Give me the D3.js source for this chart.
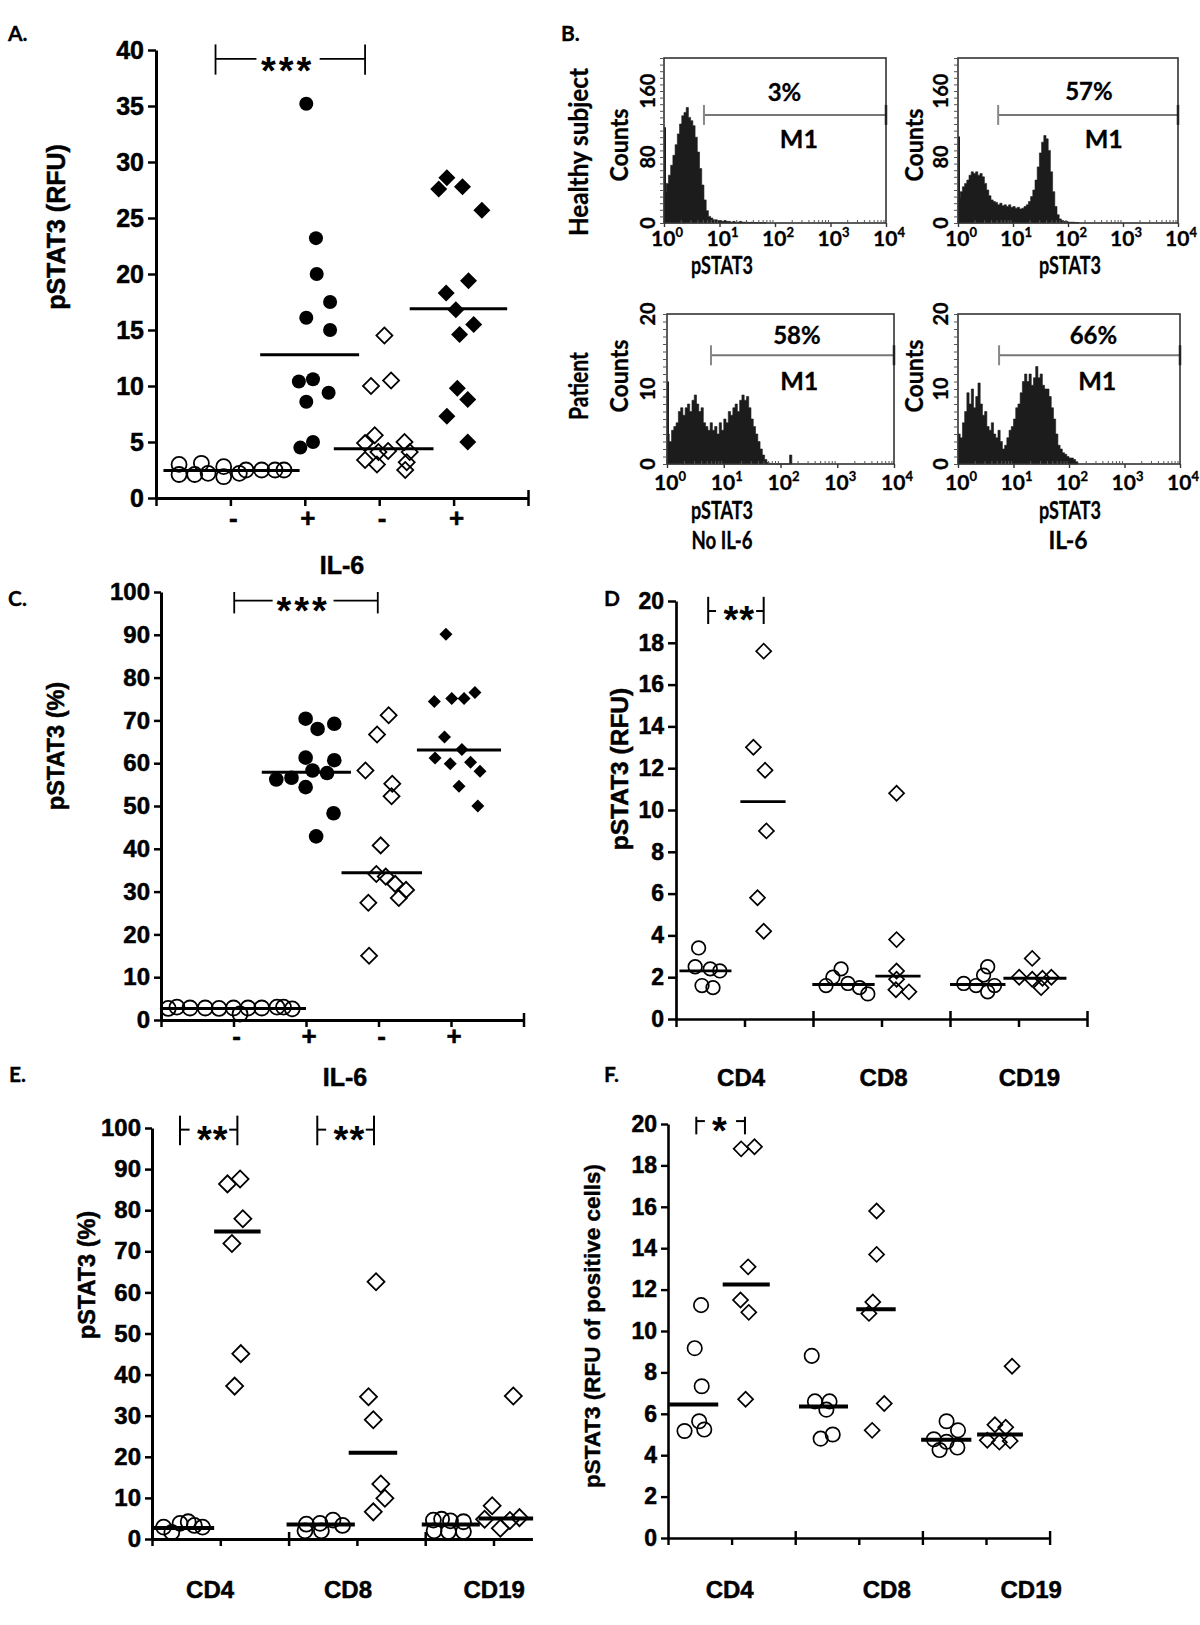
<!DOCTYPE html>
<html><head><meta charset="utf-8">
<script src="https://cdn.jsdelivr.net/npm/d3@7"></script>
<style>body{margin:0;background:#fff}svg{display:block}</style>
</head><body>
<svg id="fig" width="1200" height="1625"></svg>
<script>
// ---------------- DATA ----------------
// Panel A : pSTAT3 (RFU) ; points are [x position in category units, value]
const A_xLabels = ["-", "+", "-", "+"];
const A_yTicks = [0,5,10,15,20,25,30,35,40];
const A_healthyNoIL6 = [[0.31,3.0],[0.31,2.1],[0.52,2.1],[0.61,3.1],[0.70,2.2],[0.91,2.8],[0.91,1.9],[1.12,2.2],[1.21,2.5],[1.42,2.5],[1.60,2.5],[1.72,2.5]];
const A_healthyIL6 = [[2.02,35.2],[2.15,23.2],[2.16,20.0],[2.34,17.5],[2.02,16.1],[2.34,15.0],[1.92,10.4],[2.11,10.6],[2.32,9.4],[2.02,8.6],[2.11,5.0],[1.94,4.5]];
const A_patientNoIL6 = [[3.07,14.5],[2.89,10.0],[3.16,10.5],[2.94,5.6],[2.81,4.9],[3.34,5.0],[2.99,4.1],[3.12,4.2],[3.41,4.1],[2.81,3.4],[2.97,3.0],[3.37,3.2],[3.35,2.5]];
const A_patientIL6 = [[3.91,28.6],[3.80,27.6],[4.12,27.8],[4.38,25.7],[4.20,19.4],[3.90,18.3],[4.03,16.8],[4.27,15.5],[4.08,14.6],[4.05,9.8],[4.19,8.8],[3.91,7.3],[4.19,5.0]];
const A_medians = [2.45, 12.8, 4.4, 16.9];
const A_medianSpans = [[0.10,1.93],[1.40,2.73],[2.39,3.73],[3.41,4.72]];

// Panel C : pSTAT3 (%)
const C_xLabels = ["-", "+", "-", "+"];
const C_yTicks = [0,10,20,30,40,50,60,70,80,90,100];
const C_healthyNoIL6 = [[0.10,2.7],[0.22,3.0],[0.40,2.8],[0.61,2.8],[0.80,2.7],[1.00,2.8],[1.09,1.4],[1.20,2.8],[1.39,2.8],[1.60,3.0],[1.69,3.0],[1.81,2.6]];
const C_healthyIL6 = [[1.995,70.4],[2.16,68.0],[2.39,69.2],[1.995,61.3],[2.39,60.7],[2.09,58.3],[2.29,57.7],[1.59,56.2],[1.80,56.6],[1.995,54.4],[2.38,48.3],[2.14,42.9]];
const C_patientNoIL6 = [[3.14,71.2],[2.98,66.7],[2.82,58.3],[3.19,55.2],[3.18,52.3],[3.03,40.8],[2.97,34.1],[3.10,33.5],[3.23,31.8],[3.38,30.4],[3.28,28.5],[2.86,27.4],[2.87,15.0]];
const C_patientIL6 = [[3.93,90.1],[3.77,74.4],[4.01,75.1],[4.18,75.1],[4.33,76.5],[3.91,66.1],[4.15,63.2],[3.78,61.2],[3.99,59.9],[4.27,60.2],[4.40,58.1],[4.11,54.6],[4.37,50.0]];
const C_medians = [2.7, 57.9, 34.4, 63.1];
const C_medianSpans = [[0.01,2.0],[1.39,2.62],[2.49,3.60],[3.53,4.69]];

// Panel D : pSTAT3 (RFU) by cell type
const cellTypes = ["CD4", "CD8", "CD19"];
const D_yTicks = [0,2,4,6,8,10,12,14,16,18,20];
const D_CD4_healthy = [[0.33,3.4],[0.28,2.5],[0.50,2.4],[0.64,2.3],[0.38,1.6],[0.54,1.5]];
const D_CD4_patient = [[1.28,17.6],[1.13,13.0],[1.30,11.9],[1.32,9.0],[1.19,5.8],[1.28,4.2]];
const D_CD8_healthy = [[2.19,1.6],[2.29,2.0],[2.41,2.4],[2.51,1.7],[2.68,1.5],[2.80,1.2]];
const D_CD8_patient = [[3.22,10.8],[3.22,3.8],[3.22,2.3],[3.22,1.9],[3.21,1.4],[3.40,1.3]];
const D_CD19_healthy = [[4.20,1.7],[4.38,1.6],[4.49,2.1],[4.55,2.5],[4.65,1.6],[4.55,1.3]];
const D_CD19_patient = [[5.20,2.9],[5.01,2.0],[5.20,1.9],[5.35,1.95],[5.48,2.0],[5.33,1.5]];
const D_medians = [2.3, 10.4, 1.65, 2.05, 1.65, 1.95];
const D_medianSpans = [[0.05,0.81],[0.94,1.60],[1.99,2.90],[2.91,3.57],[4.0,4.81],[4.78,5.70]];

// Panel E : pSTAT3 (%) by cell type
const E_yTicks = [0,10,20,30,40,50,60,70,80,90,100];
const E_CD4_healthy = [[0.17,2.9],[0.29,1.6],[0.41,3.8],[0.53,4.2],[0.62,3.3],[0.74,2.9]];
const E_CD4_patient = [[1.105,86.4],[1.29,87.6],[1.33,77.9],[1.17,71.9],[1.30,45.1],[1.21,37.2]];
const E_CD8_healthy = [[2.24,2.0],[2.26,3.6],[2.46,3.8],[2.48,2.0],[2.65,4.6],[2.79,3.3]];
const E_CD8_patient = [[3.28,62.6],[3.17,34.6],[3.24,29.0],[3.35,13.4],[3.41,9.9],[3.24,6.6]];
const E_CD19_healthy = [[4.12,4.6],[4.24,4.8],[4.37,4.4],[4.56,4.2],[4.13,2.0],[4.34,1.8],[4.56,1.8]];
const E_CD19_patient = [[5.29,34.8],[4.98,8.1],[4.87,4.8],[5.24,4.5],[5.38,5.2],[5.10,2.6]];
const E_medians = [2.7, 74.8, 3.5, 21.0, 3.5, 5.0];
const E_medianSpans = [[0.02,0.91],[0.91,1.59],[1.97,2.97],[2.88,3.59],[3.95,4.80],[4.78,5.58]];

// Panel F : pSTAT3 (RFU of positive cells)
const F_yTicks = [0,2,4,6,8,10,12,14,16,18,20];
const F_CD4_healthy = [[0.52,11.25],[0.42,9.17],[0.53,7.33],[0.49,5.64],[0.26,5.17],[0.57,5.24]];
const F_CD4_patient = [[1.15,18.8],[1.36,18.9],[1.26,13.1],[1.14,11.5],[1.27,10.9],[1.22,6.7]];
const F_CD8_healthy = [[2.26,8.8],[2.31,6.6],[2.54,6.6],[2.49,6.2],[2.59,5.0],[2.40,4.8]];
const F_CD8_patient = [[3.28,15.8],[3.28,13.7],[3.22,11.4],[3.16,10.85],[3.40,6.5],[3.21,5.2]];
const F_CD19_healthy = [[4.38,5.64],[4.56,5.2],[4.18,4.77],[4.38,4.65],[4.27,4.25],[4.55,4.37]];
const F_CD19_patient = [[5.41,8.3],[5.14,5.47],[5.31,5.35],[5.02,4.72],[5.21,4.63],[5.38,4.69]];
const F_medians = [6.45, 12.25, 6.35, 11.05, 4.75, 5.0];
const F_medianSpans = [[0.02,0.79],[0.86,1.60],[2.06,2.83],[2.96,3.58],[3.98,4.77],[4.86,5.58]];

// Panel B : flow histograms (counts per log-bin of 0.04 decade starting at 10^0)
const H_binWidth = 0.04;
const H1_counts = [38,48,58,70,82,95,108,120,130,134,140,128,124,118,104,86,66,46,28,15,8,6,4,4,3,3,2,3,2,2,1,2,1,1,2,1,1,1,0.5,1,0.5,0.5,0.5,0.5,0.3,0.3];
const H2_counts = [30,38,44,48,52,58,62,60,62,58,60,56,48,40,33,28,26,25,22,24,21,22,20,22,19,20,18,19,17,18,20,22,26,32,40,52,68,85,98,106,102,88,62,38,20,10,5,3,2,2,1,1,1,0.5,0.5];
const H3_counts = [4.0,3.0,4.5,5.0,5.5,7.0,7.5,6.5,7.5,8.0,7.0,8.5,9.2,8.0,7.0,7.5,5.5,5.0,4.5,5.5,4.5,5.0,4.0,5.5,4.5,6.0,5.5,7.0,6.5,7.5,8.0,7.0,8.5,9.2,8.5,9.0,7.5,6.0,5.0,4.0,3.0,2.0,1.2,0.6,0.2,0,0,0,0,0,0,0,0,0,1.2];
const H4_counts = [4.0,3.5,5.5,7.0,9.5,8.0,10.0,7.5,9.0,10.8,8.0,6.5,7.0,5.0,4.5,5.5,4.0,3.5,4.5,3.0,2.0,2.5,3.5,4.5,5.0,6.0,7.5,8.0,9.5,11.0,12.0,11.0,12.0,10.5,11.5,13.0,11.5,12.0,10.5,10.0,10.0,9.0,7.5,6.0,4.0,2.5,2.0,1.5,1.3,1.0,0.8,0.8,0.6,0.3];
const H_firstChannel = [116, 105, 11, 0];
const H_percent = ["3%", "57%", "58%", "66%"];
const H_gateStart = [0.72, 0.73, 0.775, 0.74];   // log10 start of M1 gate
const H_exponents = [0,1,2,3,4];
const H_yLabelsTop = [0,80,160];
const H_yLabelsBottom = [0,10,20];

// ---------------- DRAWING ----------------
const svg = d3.select("#fig");
svg.append("rect").attr("width",1200).attr("height",1625).attr("fill","#fff");
const ARIAL = "'Liberation Sans', Arial, Helvetica, sans-serif";
const CALI = "Lato, 'Open Sans', sans-serif";

function txt(g, x, y, s, o = {}) {
  const t = g.append("text").attr("x", x).attr("y", y).text(s)
    .attr("font-family", o.ff || ARIAL).attr("font-weight", o.fw || "bold")
    .attr("font-size", o.fs || 20).attr("text-anchor", o.anchor || "middle").attr("fill", "#000");
  if (o.heavy) t.attr("stroke", "#000").attr("stroke-width", o.heavy);
  if (o.rot) t.attr("transform", `rotate(${o.rot},${x},${y})`);
  if (o.len) t.attr("textLength", o.len).attr("lengthAdjust", "spacingAndGlyphs");
  if (o.ls != null) t.attr("letter-spacing", o.ls);
  if (o.db) t.attr("dominant-baseline", o.db);
  return t;
}

function dotPanel(p) {
  const g = svg.append("g");
  const x = d3.scaleLinear().domain([0, p.xMax]).range([p.x0, p.x0 + p.unit * p.xMax]);
  const y = d3.scaleLinear().domain([0, p.yMax]).range([p.yZero, p.yTop]);

  const xa = g.append("g").attr("transform", `translate(0,${p.yZero})`)
    .call(d3.axisBottom(x).tickValues(p.downTicks).tickSize(p.tickLen).tickSizeOuter(0).tickFormat(""));
  xa.select(".domain").attr("stroke-width", p.axisW);
  xa.selectAll(".tick line").attr("stroke-width", p.tickW);
  if (p.upTicks.length) {
    const xu = g.append("g").attr("transform", `translate(0,${p.yZero})`)
      .call(d3.axisTop(x).tickValues(p.upTicks).tickSize(p.tickLen).tickSizeOuter(0).tickFormat(""));
    xu.select(".domain").remove();
    xu.selectAll(".tick line").attr("stroke-width", p.tickW);
  }
  const ya = g.append("g").attr("transform", `translate(${p.x0},0)`)
    .call(d3.axisLeft(y).tickValues(p.yTicks).tickSize(p.tickLen).tickSizeOuter(0).tickPadding(p.tickPad));
  ya.select(".domain").attr("stroke-width", p.axisW);
  ya.selectAll(".tick line").attr("stroke-width", p.tickW);
  ya.selectAll(".tick text").attr("font-family", ARIAL).attr("font-weight", "bold")
    .attr("font-size", p.tickFs).attr("fill", "#000").attr("stroke", "#000").attr("stroke-width", 0.5);

  p.groups.forEach((grp, i) => {
    const st = p.styles[i];
    if (st.shape === "circle") {
      g.append("g").selectAll("circle").data(grp).join("circle")
        .attr("cx", d => x(d[0])).attr("cy", d => y(d[1])).attr("r", st.size)
        .attr("fill", st.filled ? "#000" : "none").attr("stroke", "#000")
        .attr("stroke-width", st.filled ? 0 : p.markW);
    } else {
      const sym = d3.symbol(d3.symbolSquare, 2 * st.size * st.size)();
      g.append("g").selectAll("path").data(grp).join("path")
        .attr("d", sym).attr("transform", d => `translate(${x(d[0])},${y(d[1])}) rotate(45)`)
        .attr("fill", st.filled ? "#000" : "none").attr("stroke", "#000")
        .attr("stroke-width", st.filled ? 0 : p.markW);
    }
  });
  g.append("g").selectAll("line").data(p.medians).join("line")
    .attr("x1", (d, i) => x(p.spans[i][0])).attr("x2", (d, i) => x(p.spans[i][1]))
    .attr("y1", d => y(d)).attr("y2", d => y(d)).attr("stroke", "#000").attr("stroke-width", p.medW);

  p.xLabels.forEach((l, i) => txt(g, x(p.xLabelPos[i]) + (p.xLabelShift || 0), p.xLabelY, l, { fs: p.xLabelFs, heavy: 0.5 }));
  return { g, x, y };
}

function bracket(P, b) {
  const { g, x, y } = P;
  const ln = (x1, y1, x2, y2) => g.append("line").attr("x1", x1).attr("y1", y1).attr("x2", x2).attr("y2", y2)
    .attr("stroke", "#000").attr("stroke-width", b.w);
  ln(x(b.from), y(b.tickLo), x(b.from), y(b.tickHi));
  ln(x(b.to), y(b.tickLo), x(b.to), y(b.tickHi));
  ln(x(b.from), y(b.level), x(b.gap[0]), y(b.level));
  ln(x(b.gap[1]), y(b.level), x(b.to), y(b.level));
  txt(g, x(b.textAt), y(b.textV) + 0.55 * b.fs, b.stars, { fs: b.fs, ls: b.ls || 0 });
}

// Panel A
const PA = dotPanel({
  x0: 156, unit: 74.4, xMax: 5, yZero: 498, yTop: 50, yMax: 40, yTicks: A_yTicks,
  downTicks: [0,1,2,3,4,5], upTicks: [5], tickLen: 8, axisW: 3, tickW: 2.5, tickFs: 25, tickPad: 4,
  markW: 1.8, medW: 3,
  groups: [A_healthyNoIL6, A_healthyIL6, A_patientNoIL6, A_patientIL6],
  styles: [{shape:"circle",filled:false,size:7.5},{shape:"circle",filled:true,size:7},{shape:"diamond",filled:false,size:8},{shape:"diamond",filled:true,size:8.5}],
  medians: A_medians, spans: A_medianSpans,
  xLabels: A_xLabels, xLabelPos: [1,2,3,4], xLabelY: 527, xLabelFs: 26, xLabelShift: 3
});
bracket(PA, { from: 0.80, to: 2.81, level: 39.2, tickLo: 37.8, tickHi: 40.5, gap: [1.35, 2.20], textAt: 1.77, textV: 38.8, stars: "***", fs: 38, ls: 3, w: 1.8 });
txt(svg, 56, 227, "pSTAT3 (RFU)", { fs: 25, rot: -90, db: "central", heavy: 0.5 });
txt(svg, 342, 574, "IL-6", { fs: 25, heavy: 0.5 });

// Panel C
const PC = dotPanel({
  x0: 161, unit: 72.5, xMax: 5, yZero: 1020, yTop: 592, yMax: 100, yTicks: C_yTicks,
  downTicks: [0,1,2,3,4,5], upTicks: [5], tickLen: 7, axisW: 3, tickW: 2.5, tickFs: 24, tickPad: 4,
  markW: 1.8, medW: 3,
  groups: [C_healthyNoIL6, C_healthyIL6, C_patientNoIL6, C_patientIL6],
  styles: [{shape:"circle",filled:false,size:7.5},{shape:"circle",filled:true,size:7.3},{shape:"diamond",filled:false,size:8},{shape:"diamond",filled:true,size:6.5}],
  medians: C_medians, spans: C_medianSpans,
  xLabels: C_xLabels, xLabelPos: [1,2,3,4], xLabelY: 1045, xLabelFs: 26, xLabelShift: 3
});
bracket(PC, { from: 1.01, to: 2.99, level: 98, tickLo: 95, tickHi: 100, gap: [1.54, 2.38], textAt: 1.96, textV: 97.3, stars: "***", fs: 38, ls: 3, w: 1.8 });
txt(svg, 56, 746, "pSTAT3 (%)", { fs: 23.5, rot: -90, db: "central", heavy: 0.5 });
txt(svg, 345, 1086, "IL-6", { fs: 25, heavy: 0.5 });

// Panel D
const PD = dotPanel({
  x0: 676, unit: 68.5, xMax: 6, yZero: 1019, yTop: 601, yMax: 20, yTicks: D_yTicks,
  downTicks: [0,1,2,3,4,5,6], upTicks: [2,4,6], tickLen: 8, axisW: 2.7, tickW: 2.5, tickFs: 23, tickPad: 4,
  markW: 1.7, medW: 2.8,
  groups: [D_CD4_healthy, D_CD4_patient, D_CD8_healthy, D_CD8_patient, D_CD19_healthy, D_CD19_patient],
  styles: [0,1,2,3,4,5].map(i => i % 2 ? {shape:"diamond",filled:false,size:7.5} : {shape:"circle",filled:false,size:6.8}),
  medians: D_medians, spans: D_medianSpans,
  xLabels: cellTypes, xLabelPos: [0.95, 3.03, 5.16], xLabelY: 1086, xLabelFs: 24
});
bracket(PD, { from: 0.47, to: 1.28, level: 19.52, tickLo: 18.9, tickHi: 20.2, gap: [0.585, 1.17], textAt: 0.925, textV: 19.45, stars: "**", fs: 38, ls: 1, w: 2 });
txt(svg, 619, 769, "pSTAT3 (RFU)", { fs: 24.5, rot: -90, db: "central", heavy: 0.5 });

// Panel E
const PE = dotPanel({
  x0: 152, unit: 68.3, xMax: 5.57, yZero: 1539, yTop: 1128, yMax: 100, yTicks: E_yTicks,
  downTicks: [0,1,2,3,4,5], upTicks: [2,4], tickLen: 7, axisW: 3, tickW: 2.5, tickFs: 24, tickPad: 4,
  markW: 1.8, medW: 4,
  groups: [E_CD4_healthy, E_CD4_patient, E_CD8_healthy, E_CD8_patient, E_CD19_healthy, E_CD19_patient],
  styles: [0,1,2,3,4,5].map(i => i % 2 ? {shape:"diamond",filled:false,size:8.5} : {shape:"circle",filled:false,size:7.5}),
  medians: E_medians, spans: E_medianSpans,
  xLabels: cellTypes, xLabelPos: [0.85, 2.87, 5.01], xLabelY: 1598, xLabelFs: 24
});
bracket(PE, { from: 0.41, to: 1.25, level: 99.6, tickLo: 95.8, tickHi: 103, gap: [0.55, 1.13], textAt: 0.89, textV: 98.9, stars: "**", fs: 38, ls: 1, w: 2 });
bracket(PE, { from: 2.42, to: 3.25, level: 99.6, tickLo: 95.8, tickHi: 103, gap: [2.55, 3.13], textAt: 2.89, textV: 98.9, stars: "**", fs: 38, ls: 1, w: 2 });
txt(svg, 87, 1275, "pSTAT3 (%)", { fs: 23.5, rot: -90, db: "central", heavy: 0.5 });

// Panel F
const PF = dotPanel({
  x0: 668, unit: 63.6, xMax: 6, yZero: 1538, yTop: 1124, yMax: 20, yTicks: F_yTicks,
  downTicks: [0,1,2,3,4,5,6], upTicks: [2,4,6], tickLen: 7, axisW: 2.6, tickW: 2.4, tickFs: 23, tickPad: 4,
  markW: 1.7, medW: 4,
  groups: [F_CD4_healthy, F_CD4_patient, F_CD8_healthy, F_CD8_patient, F_CD19_healthy, F_CD19_patient],
  styles: [0,1,2,3,4,5].map(i => i % 2 ? {shape:"diamond",filled:false,size:7.5} : {shape:"circle",filled:false,size:7.2}),
  medians: F_medians, spans: F_medianSpans,
  xLabels: cellTypes, xLabelPos: [0.97, 3.44, 5.71], xLabelY: 1598, xLabelFs: 24
});
bracket(PF, { from: 0.445, to: 1.21, level: 20.14, tickLo: 19.5, tickHi: 20.35, gap: [0.58, 1.07], textAt: 0.81, textV: 20.05, stars: "*", fs: 38, w: 2 });
txt(svg, 592, 1326, "pSTAT3 (RFU of positive cells)", { fs: 22.5, rot: -90, db: "central", heavy: 0.4 });

// Panel B histograms
function histPanel(p) {
  const g = svg.append("g");
  const x = d3.scaleLog().domain([1, 1e4]).range([p.x0, p.x1]);
  const y = d3.scaleLinear().domain([0, p.yMax]).range([p.yBot, p.yTop]);
  const pts = p.counts.map((c, k) => ({ lx: k * H_binWidth, c }));
  pts.push({ lx: p.counts.length * H_binWidth, c: 0 });
  const area = d3.area().x(d => x(10 ** d.lx)).y0(p.yBot).y1(d => y(d.c)).curve(d3.curveStepAfter);
  g.append("path").attr("d", area(pts)).attr("fill", "#1c1c1c").attr("stroke", "#1c1c1c").attr("stroke-width", 0.6);
  if (p.first > 0) g.append("line").attr("x1", p.x0 + 1).attr("x2", p.x0 + 1).attr("y1", p.yBot).attr("y2", y(p.first)).attr("stroke", "#1c1c1c").attr("stroke-width", 2);
  g.append("rect").attr("x", p.x0).attr("y", p.yTop).attr("width", p.x1 - p.x0).attr("height", p.yBot - p.yTop)
    .attr("fill", "none").attr("stroke", "#333").attr("stroke-width", 1.6);
  const ya = g.append("g").attr("transform", `translate(${p.x0},0)`)
    .call(d3.axisLeft(y).tickValues(d3.range(0, p.yMax + 1e-9, p.yMinor)).tickSize(4).tickSizeOuter(0).tickFormat(""));
  ya.select(".domain").remove();
  ya.selectAll(".tick line").attr("stroke", "#555").attr("stroke-width", 1);
  const minors = [];
  for (let e = 0; e < 4; e++) for (let m = 2; m <= 9; m++) minors.push(m * 10 ** e);
  const xa = g.append("g").attr("transform", `translate(0,${p.yBot})`)
    .call(d3.axisBottom(x).tickValues(minors).tickSize(-3).tickSizeOuter(0).tickFormat(""));
  xa.select(".domain").remove();
  xa.selectAll(".tick line").attr("stroke", "#555").attr("stroke-width", 1);
  const xm = g.append("g").attr("transform", `translate(0,${p.yBot})`)
    .call(d3.axisBottom(x).tickValues(H_exponents.map(e => 10 ** e)).tickSize(4).tickSizeOuter(0).tickFormat(""));
  xm.select(".domain").remove();
  xm.selectAll(".tick line").attr("stroke", "#333").attr("stroke-width", 1.4);
  p.yLabels.forEach(v => txt(g, p.labX, y(v), String(v), { ff: CALI, fs: 20, rot: -90, db: "central", heavy: 0.3 }));
  H_exponents.forEach(e => {
    const t = txt(g, x(10 ** e) + 3, p.xLabY, "10", { ff: CALI, fs: 21, heavy: 0.3 });
    t.append("tspan").attr("dy", -9).attr("font-size", 13).text(String(e));
  });
  const gy = y(p.gateY), gx0 = x(10 ** p.gate);
  g.append("line").attr("x1", gx0).attr("x2", p.x1).attr("y1", gy).attr("y2", gy).attr("stroke", "#777").attr("stroke-width", 2);
  g.append("line").attr("x1", gx0).attr("x2", gx0).attr("y1", gy - 10).attr("y2", gy + 10).attr("stroke", "#888").attr("stroke-width", 2);
  g.append("line").attr("x1", p.x1).attr("x2", p.x1).attr("y1", gy - 10).attr("y2", gy + 10).attr("stroke", "#222").attr("stroke-width", 2.5);
  txt(g, x(10 ** p.pctAt[0]), y(p.pctAt[1]), p.pct, { ff: CALI, fs: 24, db: "central", heavy: 0.3 });
  txt(g, x(10 ** p.m1At[0]), y(p.m1At[1]), "M1", { ff: CALI, fs: 25, db: "central", heavy: 0.3 });
  return { g, x, y };
}

const HB1 = histPanel({ x0: 664, x1: 886, yTop: 58, yBot: 223, yMax: 200, yMinor: 8, counts: H1_counts, first: H_firstChannel[0],
  yLabels: H_yLabelsTop, labX: 647, xLabY: 246, gate: H_gateStart[0], gateY: 131, pct: H_percent[0], pctAt: [2.17, 159], m1At: [2.43, 103] });
const HB2 = histPanel({ x0: 958, x1: 1178, yTop: 58, yBot: 223, yMax: 200, yMinor: 8, counts: H2_counts, first: H_firstChannel[1],
  yLabels: H_yLabelsTop, labX: 940, xLabY: 246, gate: H_gateStart[1], gateY: 131, pct: H_percent[1], pctAt: [2.38, 161], m1At: [2.65, 103] });
const HB3 = histPanel({ x0: 667, x1: 894, yTop: 314, yBot: 464, yMax: 20, yMinor: 1, counts: H3_counts, first: H_firstChannel[2],
  yLabels: H_yLabelsBottom, labX: 647, xLabY: 490, gate: H_gateStart[2], gateY: 14.5, pct: H_percent[2], pctAt: [2.29, 17.3], m1At: [2.33, 11.2] });
const HB4 = histPanel({ x0: 958, x1: 1180, yTop: 314, yBot: 464, yMax: 20, yMinor: 1, counts: H4_counts, first: H_firstChannel[3],
  yLabels: H_yLabelsBottom, labX: 940, xLabY: 490, gate: H_gateStart[3], gateY: 14.5, pct: H_percent[3], pctAt: [2.44, 17.3], m1At: [2.51, 11.2] });

const bOpt = (len, rot) => ({ ff: CALI, fs: 25, len, heavy: 0.3, ...(rot ? { rot: -90, db: "central" } : {}) });
txt(svg, 722, 274, "pSTAT3", bOpt(62));
txt(svg, 1070, 274, "pSTAT3", bOpt(62));
txt(svg, 722, 519, "pSTAT3", bOpt(62));
txt(svg, 1070, 519, "pSTAT3", bOpt(62));
txt(svg, 722, 549, "No IL-6", bOpt(61));
txt(svg, 1068, 549, "IL-6", bOpt(39));
txt(svg, 578, 152, "Healthy subject", { ...bOpt(168, true), fs: 26 });
txt(svg, 578, 386, "Patient", { ...bOpt(68, true), fs: 26 });
txt(svg, 618, 145, "Counts", bOpt(73, true));
txt(svg, 913, 145, "Counts", bOpt(73, true));
txt(svg, 618, 376, "Counts", bOpt(73, true));
txt(svg, 913, 376, "Counts", bOpt(73, true));

// Panel letters
[["A.", 8, 41], ["B.", 561, 41], ["C.", 8, 606], ["D", 604, 606], ["E.", 9, 1082], ["F.", 604, 1082]]
  .forEach(([s, x, y]) => txt(svg, x, y, s, { ff: CALI, fs: 21, anchor: "start", heavy: 0.3 }));
</script>
</body></html>
